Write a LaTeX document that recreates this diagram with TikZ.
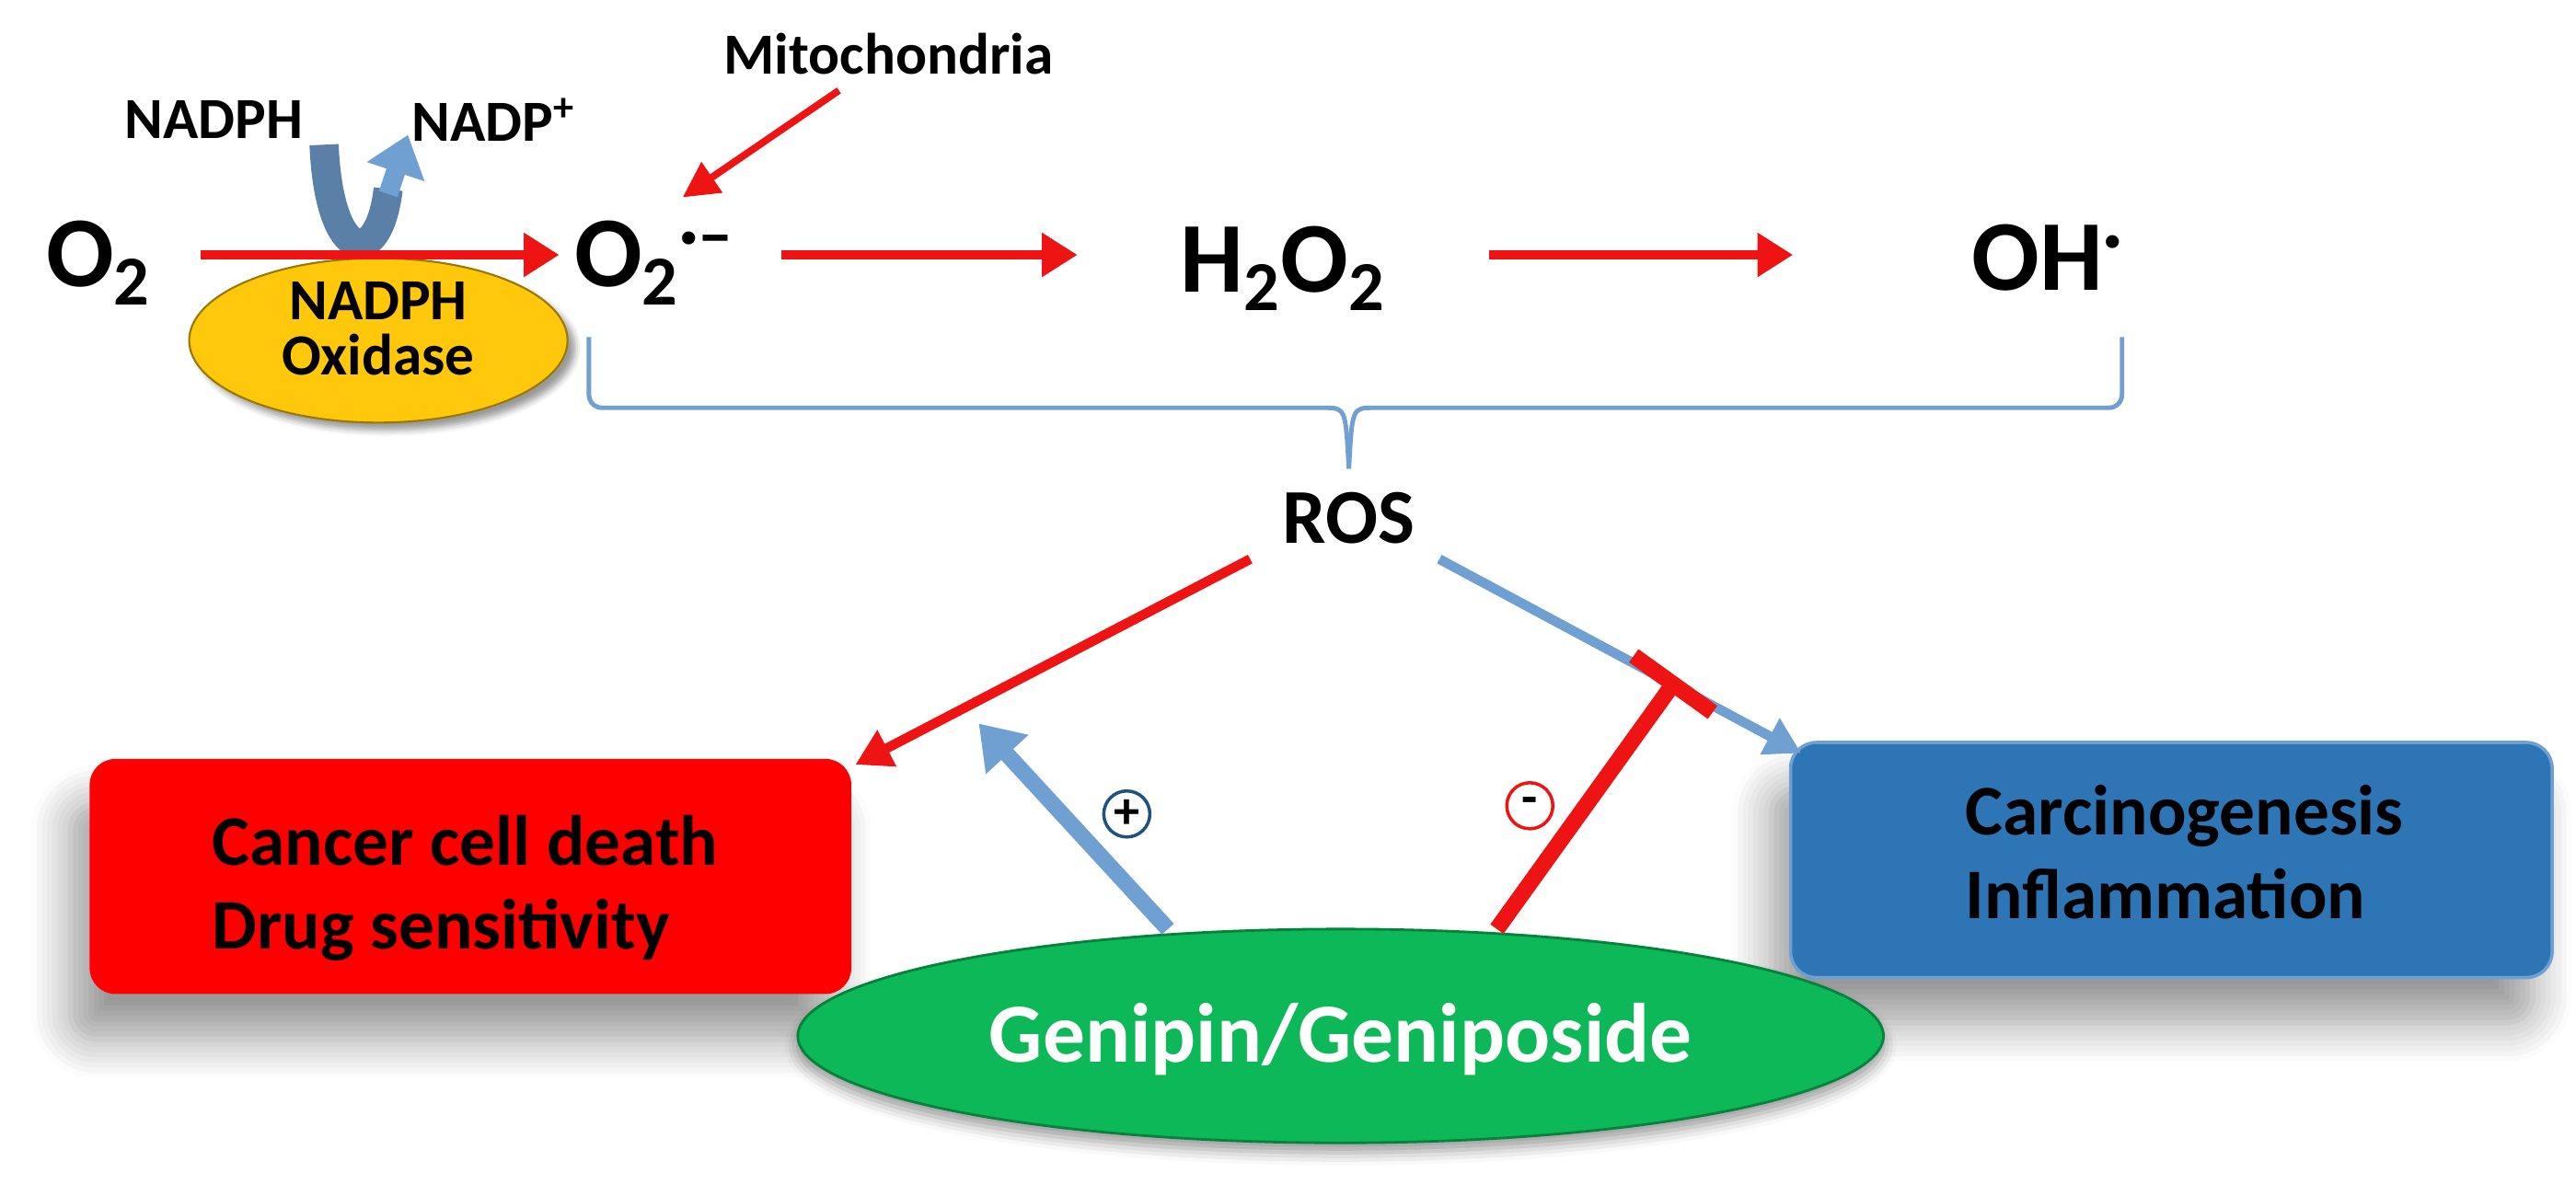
\documentclass[tikz,border=0pt]{standalone}
\usepackage{fontspec}
\setmainfont{Carlito}
\usetikzlibrary{arrows.meta,shadows.blur,shapes.geometric}
\definecolor{rred}{RGB}{238,20,20}
\definecolor{lblue}{RGB}{112,160,210}
\definecolor{bbox}{RGB}{46,117,182}
\definecolor{gell}{RGB}{12,184,88}
\definecolor{yell}{RGB}{255,200,10}
\newcommand{\fs}[1]{\fontsize{#1}{#1}\selectfont\bfseries}
\begin{document}
\begin{tikzpicture}[x=0.01787cm,y=-0.01787cm,
  chem/.style={font=\fs{31}},
  lab/.style={font=\fs{18}},
  rarr/.style={draw=rred,line width=2.8pt,-{Triangle[length=11pt,width=13pt]}},
  box/.style={rounded corners=8pt,minimum width=463*0.01787cm,minimum height=143*0.01787cm,blur shadow={shadow xshift=-6pt,shadow yshift=-14pt,shadow blur steps=8,shadow blur radius=12pt}},
  txt/.style={font=\fs{22},align=left}]
\useasboundingbox (0,0) rectangle (1566,727);
% top row
\node[lab] (mito) at (540,33) {Mitochondria};
\node[lab] (nadph) at (130,73) {NADPH};
\node[lab] (nadp) at (300,73) {NADP\textsuperscript{+}};
\node[ellipse,minimum width=230*0.01787cm,minimum height=100*0.01787cm,draw=yell!60!black,fill=yell,line width=0.6pt,blur shadow,inner sep=0pt] (nox) at (230,207) {};
\node[font=\fs{18},align=center] (noxt) at (230,200) {NADPH\\[-1pt]Oxidase};
\node[chem] (o2) at (60,160) {O\textsubscript{2}};
\node[chem] (sup) at (398,160) {O\textsubscript{2}\textsuperscript{·–}};
\node[chem] (h2o2) at (780,163) {H\textsubscript{2}O\textsubscript{2}};
\node[chem] (oh) at (1245,157) {OH\textsuperscript{·}};
% blue U arrow
\coordinate (ua) at (197,88);
\coordinate (ub) at (248,82);
\draw[line width=9pt,draw=lblue!80!black] (ua) .. controls (200,160) and (230,165) .. (236,115);
\draw[line width=6pt,draw=lblue,-{Triangle[length=12pt,width=18pt]}] (236,118) -- (ub);
\draw[rarr] (122,155) -- (340,155);
\draw[rarr] (475,155) -- (655,155);
\draw[rarr] (905,155) -- (1090,155);
\draw[draw=rred,line width=2.2pt,-{Triangle[length=11pt,width=11pt]}] (510,55) -- (415,120);
% brace
\coordinate (bl) at (358,205);
\coordinate (br) at (1290,205);
\coordinate (bc) at (820,285);
\draw[lblue,line width=1.4pt] (bl) -- (358,240) arc[start angle=180,end angle=90,radius=8] -- (805,248) .. controls (818,248) .. (bc);
\draw[lblue,line width=1.4pt] (br) -- (1290,240) arc[start angle=0,end angle=90,radius=8] -- (835,248) .. controls (822,248) .. (bc);
\node[font=\fs{24}] (ros) at (820,315) {ROS};
% boxes
\node[box,fill=red] (rb) at (286,533) {};
\node[txt,anchor=west] (rbt) at (122,540) {Cancer cell death\\[4pt]Drug sensitivity};
\node[box,fill=bbox,draw=lblue,line width=1pt] (bb) at (1320,523) {};
\node[txt,anchor=west] (bbt) at (1188,518) {Carcinogenesis\\[4pt]Inflammation};
\node[ellipse,minimum width=660*0.01787cm,minimum height=130*0.01787cm,fill=gell,draw=gell!70!black,line width=0.8pt,inner sep=0pt,blur shadow={shadow blur radius=4pt,shadow xshift=0pt,shadow yshift=-3pt}] (gen) at (815,630) {};
\node[font=\fs{26},text=white] (gent) at (815,632) {Genipin/Geniposide};
% ROS arrows
\draw[draw=rred,line width=3pt,-{Triangle[length=11pt,width=12pt]}] (760,340) -- (520,465);
\draw[draw=lblue,line width=3pt,-{Triangle[length=11pt,width=12pt]}] (875,340) -- (1095,458);
% genipin effects
\draw[draw=lblue,line width=5pt,-{Triangle[length=13pt,width=17pt]}] (710,565) -- (595,440);
\node[circle,draw=bbox!70!black,line width=1pt,minimum size=28*0.01787cm,inner sep=0pt,font=\fs{16}] (plus) at (685,495) {+};
\draw[draw=rred,line width=5pt,-{Bar[width=30pt,line width=5pt]}] (910,565) -- (1020,412);
\node[circle,draw=rred,line width=1pt,minimum size=28*0.01787cm,inner sep=0pt,font=\fs{16}] (minus) at (930,490) {-};
\end{tikzpicture}
\end{document}
